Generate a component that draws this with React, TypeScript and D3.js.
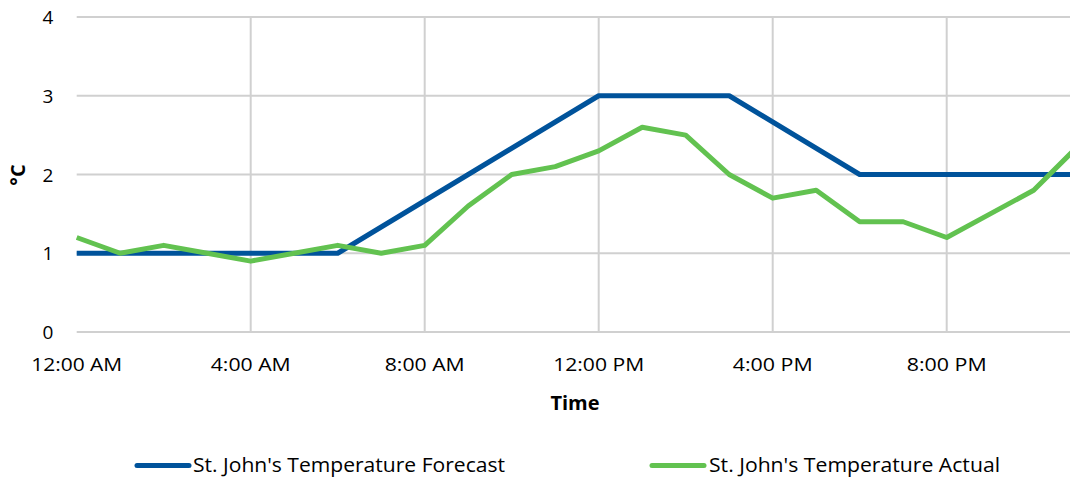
import React from "react";
import * as d3 from "d3";

const forecastHours = [0, 3, 6, 9, 12, 15, 18, 21, 24];
const forecastValues = [1, 1, 1, 2, 3, 3, 2, 2, 2];
const actualHours = [0, 1, 2, 3, 4, 5, 6, 7, 8, 9, 10, 11, 12, 13, 14, 15, 16, 17, 18, 19, 20, 21, 22, 23];
const actualValues = [1.2, 1.0, 1.1, 1.0, 0.9, 1.0, 1.1, 1.0, 1.1, 1.6, 2.0, 2.1, 2.3, 2.6, 2.5, 2.0, 1.7, 1.8, 1.4, 1.4, 1.2, 1.5, 1.8, 2.35];
const xTickHours = [0, 4, 8, 12, 16, 20];
const xTickLabels = ["12:00 AM", "4:00 AM", "8:00 AM", "12:00 PM", "4:00 PM", "8:00 PM"];
const yTicks = [0, 1, 2, 3, 4];
const seriesNames = ["St. John's Temperature Forecast", "St. John's Temperature Actual"];
const seriesColors = ["#00539b", "#62c250"];

export default function App() {
  const W = 1070;
  const H = 479;
  const x = d3.scaleLinear().domain([0, 24]).range([76.7, 76.7 + 24 * 43.5]);
  const y = d3.scaleLinear().domain([0, 4]).range([332, 17]);
  const line = d3
    .line<[number, number]>()
    .x((d) => x(d[0]))
    .y((d) => y(d[1]));
  const fData: [number, number][] = forecastHours.map((h, i) => [h, forecastValues[i]]);
  const aData: [number, number][] = actualHours.map((h, i) => [h, actualValues[i]]);
  const font = "'Open Sans', 'Noto Sans', sans-serif";
  const plotRight = W;
  return (
    <svg
      width={W}
      height={H}
      style={{ position: "absolute", left: 0, top: 0, background: "#fff" }}
      fontFamily={font}
    >
      <defs>
        <clipPath id="plotclip">
          <rect x={0} y={0} width={W} height={H} />
        </clipPath>
      </defs>
      {yTicks.map((t) => (
        <line key={"h" + t} x1={x(0)} x2={plotRight} y1={y(t)} y2={y(t)} stroke="#d0d0d0" strokeWidth={2} />
      ))}
      {xTickHours.filter((h) => h > 0).map((h) => (
        <line key={"v" + h} x1={x(h)} x2={x(h)} y1={y(4)} y2={y(0)} stroke="#d0d0d0" strokeWidth={2} />
      ))}
      {yTicks.map((t) => (
        <text key={"yt" + t} x={48} y={y(t) + 7} textAnchor="middle" fontSize={19} fill="#000">
          {t}
        </text>
      ))}
      {xTickHours.map((h, i) => (
        <text key={"xt" + h} x={x(h)} y={370.5} textAnchor="middle" fontSize={19} fill="#000" textLength={xTickLabels[i].length === 8 ? 91 : 80} lengthAdjust="spacingAndGlyphs">
          {xTickLabels[i]}
        </text>
      ))}
      <g clipPath="url(#plotclip)">
        <path d={line(fData) || ""} fill="none" stroke={seriesColors[0]} strokeWidth={5} strokeLinejoin="round" />
        <path d={line(aData) || ""} fill="none" stroke={seriesColors[1]} strokeWidth={5} strokeLinejoin="round" />
      </g>
      <text x={575} y={410} textAnchor="middle" fontSize={20} fontWeight="bold" fill="#000">
        Time
      </text>
      <text transform="translate(25,175) rotate(-90)" textAnchor="middle" fontSize={20} fontWeight="bold" fill="#000">
        °C
      </text>
      <line x1={137} x2={189} y1={465.5} y2={465.5} stroke={seriesColors[0]} strokeWidth={5} strokeLinecap="round" />
      <text x={193} y={471.5} fontSize={20} fill="#000" textLength={312} lengthAdjust="spacingAndGlyphs">
        {seriesNames[0]}
      </text>
      <line x1={652} x2={704} y1={465.5} y2={465.5} stroke={seriesColors[1]} strokeWidth={5} strokeLinecap="round" />
      <text x={709} y={471.5} fontSize={20} fill="#000" textLength={291} lengthAdjust="spacingAndGlyphs">
        {seriesNames[1]}
      </text>
    </svg>
  );
}
